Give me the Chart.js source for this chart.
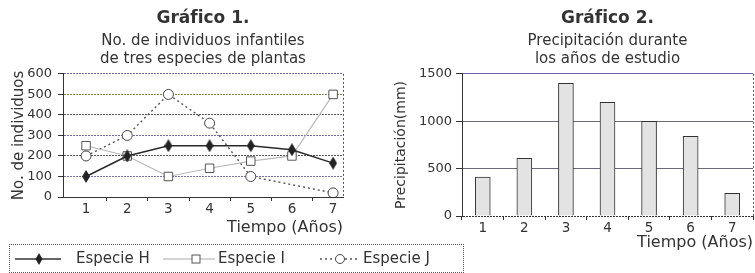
<!DOCTYPE html>
<html lang="es">

<head>
    <meta charset="UTF-8">
    <title>Gráfico 1 y Gráfico 2</title>
    <script src="https://cdn.jsdelivr.net/npm/chart.js"></script>
    <style>
        body {
            margin: 0;
            width: 755px;
            height: 273px;
            position: relative;
            overflow: hidden;
            background: #fff;
            font-family: "DejaVu Sans", sans-serif;
            color: #333;
        }

        .box1 { position: absolute; left: 0; top: 0; width: 365px; height: 243px; }
        .box2 { position: absolute; left: 380px; top: 0; width: 375px; height: 273px; }

        #leyenda {
            position: absolute;
            left: 9px;
            top: 244px;
            width: 453px;
            height: 27px;
            border: 1px dotted #555;
            font-size: 15px;
        }

        #leyenda svg, #leyenda span { position: absolute; }
        #leyenda span { top: 4px; }
    </style>
</head>

<body>
    <div class="box1"><canvas id="grafico1"></canvas></div>
    <div class="box2"><canvas id="grafico2"></canvas></div>

    <!-- leyenda del gráfico 1 -->
    <div id="leyenda">
        <svg style="left:5px;top:4px" width="46" height="20">
            <line x1="0" y1="10" x2="46" y2="10" stroke="#333" stroke-width="1.5" />
            <polygon points="24,4 27.5,10 24,16 20.5,10" fill="#222" />
        </svg>
        <span style="left:66px">Especie H</span>
        <svg style="left:153px;top:4px" width="52" height="20">
            <line x1="0" y1="10" x2="52" y2="10" stroke="#aaa" stroke-width="1.2" />
            <rect x="29" y="6" width="8" height="8" fill="#fff" stroke="#555" />
        </svg>
        <span style="left:208px">Especie I</span>
        <svg style="left:310px;top:4px" width="40" height="20">
            <line x1="0" y1="10" x2="40" y2="10" stroke="#555" stroke-width="1.3" stroke-dasharray="2,3" />
            <circle cx="20" cy="10" r="4.5" fill="#fff" stroke="#444" />
        </svg>
        <span style="left:353px">Especie J</span>
    </div>

    <script>
        // datos
        const anios = [1, 2, 3, 4, 5, 6, 7];
        const especieH = [100, 200, 250, 250, 250, 230, 165];
        const especieI = [250, 200, 100, 140, 175, 200, 500];
        const especieJ = [200, 300, 500, 360, 100, null, 20];
        const precipitacion = [410, 610, 1400, 1200, 1000, 840, 240];
        const marcasX1 = [1, 1.5, 2, 2.5, 3, 3.5, 4, 4.5, 5, 5.5, 6, 6.5, 7];

        const fuente = "'DejaVu Sans', sans-serif";
        Chart.defaults.font.family = fuente;
        Chart.defaults.color = '#333';

        // rombo alargado para la especie H
        const rombo = document.createElement('canvas');
        rombo.width = 8; rombo.height = 13;
        const rc = rombo.getContext('2d');
        rc.fillStyle = '#222';
        rc.beginPath();
        rc.moveTo(4, 0); rc.lineTo(8, 6.5); rc.lineTo(4, 13); rc.lineTo(0, 6.5);
        rc.closePath();
        rc.fill();

        // borde derecho punteado del área de trazado
        const bordeDerecho = {
            id: 'bordeDerecho',
            afterDraw(ch) {
                const a = ch.chartArea, ctx = ch.ctx;
                ctx.save();
                ctx.strokeStyle = '#555';
                ctx.lineWidth = 1;
                ctx.setLineDash([2, 2]);
                ctx.beginPath();
                ctx.moveTo(Math.round(a.right) + 0.5, a.top);
                ctx.lineTo(Math.round(a.right) + 0.5, a.bottom);
                ctx.stroke();
                ctx.restore();
            }
        };

        const puntos = arr => arr.map((v, i) => ({ x: anios[i], y: v }));
        const colorGrid1 = { 600: '#6f63ad', 500: '#7f8450', 400: '#555', 300: '#7268a8', 200: '#555', 100: '#786ea8', 0: '#333' };

        new Chart(document.getElementById('grafico1'), {
            type: 'line',
            data: {
                datasets: [{
                    label: 'Especie H',
                    data: puntos(especieH),
                    borderColor: '#2a2a2a',
                    borderWidth: 1.5,
                    pointStyle: rombo,
                    pointRadius: 5
                }, {
                    label: 'Especie I',
                    data: puntos(especieI),
                    borderColor: '#b8b8b8',
                    borderWidth: 1.2,
                    pointStyle: 'rect',
                    pointRadius: 6,
                    pointBackgroundColor: '#fff',
                    pointBorderColor: '#555',
                    pointBorderWidth: 1
                }, {
                    label: 'Especie J',
                    data: puntos(especieJ),
                    borderColor: '#555',
                    borderWidth: 1.4,
                    borderDash: [2, 3],
                    spanGaps: true,
                    pointStyle: 'circle',
                    pointRadius: 5,
                    pointBackgroundColor: '#fff',
                    pointBorderColor: '#444',
                    pointBorderWidth: 1
                }]
            },
            options: {
                responsive: true,
                maintainAspectRatio: false,
                animation: false,
                layout: { padding: { right: 22, top: 0, bottom: 0, left: 0 } },
                plugins: {
                    legend: { display: false },
                    tooltip: { enabled: false },
                    title: {
                        display: true,
                        text: 'Gráfico 1.',
                        fullSize: false,
                        color: '#333',
                        font: { size: 17, weight: 'bold' },
                        padding: { top: 8, bottom: 4 }
                    },
                    subtitle: {
                        display: true,
                        text: ['No. de individuos infantiles', 'de tres especies de plantas'],
                        fullSize: false,
                        color: '#333',
                        font: { size: 15, lineHeight: 1.2 },
                        padding: { top: 0, bottom: 5.5 }
                    }
                },
                scales: {
                    x: {
                        type: 'linear',
                        min: 0.44,
                        max: 7.24,
                        afterBuildTicks: s => { s.ticks = marcasX1.map(v => ({ value: v })); },
                        afterFit: s => { s.height = 46; },
                        ticks: {
                            autoSkip: false,
                            maxRotation: 0,
                            padding: 0,
                            font: { size: 13.5 },
                            callback: v => Number.isInteger(v) ? String(v) : ''
                        },
                        grid: {
                            drawOnChartArea: false,
                            tickLength: 4,
                            tickColor: c => Number.isInteger(c.tick.value) ? 'rgba(0,0,0,0)' : '#333'
                        },
                        border: { color: '#333', width: 1 },
                        title: {
                            display: true,
                            text: 'Tiempo (Años)',
                            align: 'end',
                            font: { size: 16 },
                            padding: { top: 0, bottom: 6 }
                        }
                    },
                    y: {
                        min: 0,
                        max: 600,
                        afterFit: s => { s.width = 63; },
                        ticks: { stepSize: 100, padding: 6, font: { size: 13 }, callback: v => String(v) },
                        grid: {
                            color: c => colorGrid1[c.tick.value] || '#666',
                            tickColor: '#333',
                            tickLength: 5
                        },
                        // en v4 border.dash también se aplica a las líneas de cuadrícula
                        border: { color: '#333', dash: [2, 1] },
                        title: {
                            display: true,
                            text: 'No. de individuos',
                            font: { size: 15 },
                            padding: { top: 10, bottom: 0 }
                        }
                    }
                }
            },
            plugins: [bordeDerecho]
        });

        const colorGrid2 = { 1500: '#6d62b8', 1000: '#6a6a78', 500: '#68687a', 0: '#333' };

        new Chart(document.getElementById('grafico2'), {
            type: 'bar',
            data: {
                labels: anios,
                datasets: [{
                    label: 'Precipitación',
                    data: precipitacion,
                    backgroundColor: '#e3e3e3',
                    borderColor: '#333',
                    borderWidth: 1,
                    barThickness: 15
                }]
            },
            options: {
                responsive: true,
                maintainAspectRatio: false,
                animation: false,
                layout: { padding: { right: 2, top: 0, bottom: 0, left: 0 } },
                plugins: {
                    legend: { display: false },
                    tooltip: { enabled: false },
                    title: {
                        display: true,
                        text: 'Gráfico 2.',
                        fullSize: false,
                        color: '#333',
                        font: { size: 17, weight: 'bold' },
                        padding: { top: 8, bottom: 4 }
                    },
                    subtitle: {
                        display: true,
                        text: ['Precipitación durante', 'los años de estudio'],
                        fullSize: false,
                        color: '#333',
                        font: { size: 15, lineHeight: 1.2 },
                        padding: { top: 0, bottom: 5.5 }
                    }
                },
                scales: {
                    x: {
                        afterFit: s => { s.height = 57; },
                        ticks: { padding: 0, maxRotation: 0, font: { size: 13.5 } },
                        grid: {
                            drawOnChartArea: false,
                            offset: true,
                            tickLength: 4,
                            tickColor: '#333'
                        },
                        border: { display: false },
                        title: {
                            display: true,
                            text: 'Tiempo (Años)',
                            align: 'end',
                            font: { size: 16 },
                            padding: { top: 0, bottom: 21 }
                        }
                    },
                    y: {
                        min: 0,
                        max: 1500,
                        afterFit: s => { s.width = 82; },
                        ticks: { stepSize: 500, padding: 4, font: { size: 13 }, callback: v => String(v) },
                        grid: {
                            color: c => colorGrid2[c.tick.value] || '#777',
                            tickColor: '#333',
                            tickLength: 6
                        },
                        // la línea base (0) punteada, las demás continuas
                        border: { color: '#333', dash: c => c.tick && c.tick.value === 0 ? [2, 1] : [] },
                        title: {
                            display: true,
                            text: 'Precipitación(mm)',
                            font: { size: 14 },
                            padding: { top: 13, bottom: 0 }
                        }
                    }
                }
            },
            plugins: [bordeDerecho]
        });
    </script>
</body>

</html>
